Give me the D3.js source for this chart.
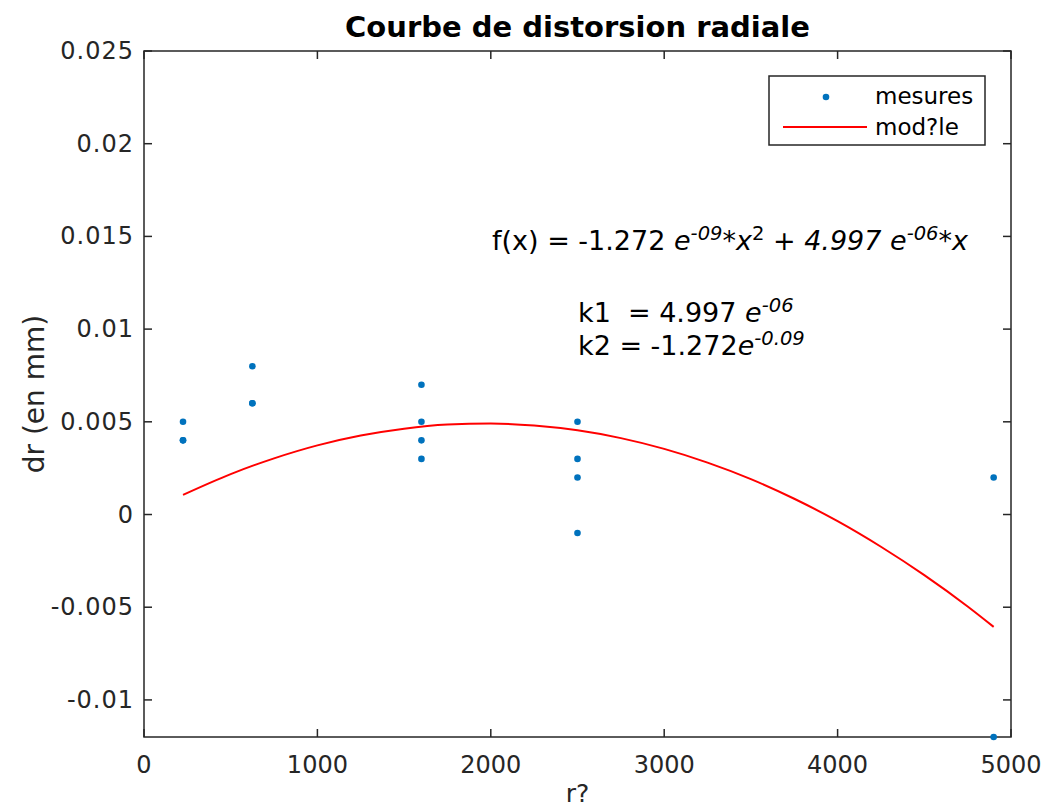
<!DOCTYPE html>
<html><head><meta charset="utf-8">
<script src="https://cdn.jsdelivr.net/npm/d3@7"></script>
<style>body{margin:0;background:#fff}svg{display:block;font-family:"DejaVu Sans",sans-serif}</style>
</head><body><svg id="c" width="1049" height="810"></svg>
<script>
// measured points (r², dr)
const measX = [225,225,225,625,625,625,1600,1600,1600,1600,2500,2500,2500,2500,4900,4900];
const measY = [0.005,0.004,0.004,0.008,0.006,0.006,0.007,0.005,0.004,0.003,0.005,0.003,0.002,-0.001,0.002,-0.012];
// model curve values
const modelX = [225,500,750,1000,1250,1500,1750,2000,2250,2500,2750,3000,3250,3500,3750,4000,4250,4500,4750,4900];
const modelY = [0.00106,0.00218,0.00303,0.00373,0.00426,0.00463,0.00485,0.00491,0.00480,0.00454,0.00412,0.00354,0.00280,0.00191,0.00085,-0.00036,-0.00174,-0.00327,-0.00496,-0.00606];
const xTicks = [0,1000,2000,3000,4000,5000];
const yTicks = [-0.01,-0.005,0,0.005,0.01,0.015,0.02,0.025];
const yTickLabels = ["-0.01","-0.005","0","0.005","0.01","0.015","0.02","0.025"];

const svg = d3.select("#c");
const L=144,R=1011,T=51,B=737;
const x = d3.scaleLinear().domain([0,5000]).range([L,R]);
const y = d3.scaleLinear().domain([-0.012,0.025]).range([B,T]);
const axCol="#262626";

// frame
svg.append("rect").attr("x",L).attr("y",T).attr("width",R-L).attr("height",B-T)
  .attr("fill","none").attr("stroke",axCol).attr("stroke-width",1.5);

const tl=8;
const g=svg.append("g").attr("fill",axCol).attr("stroke",axCol);
xTicks.forEach(v=>{
  g.append("line").attr("x1",x(v)).attr("x2",x(v)).attr("y1",B).attr("y2",B-tl).attr("stroke-width",1.5);
  g.append("line").attr("x1",x(v)).attr("x2",x(v)).attr("y1",T).attr("y2",T+tl).attr("stroke-width",1.5);
  g.append("text").attr("x",x(v)).attr("y",B+36).attr("text-anchor","middle").attr("stroke","none")
   .attr("font-size",24).text(v);
});
yTicks.forEach((v,i)=>{
  g.append("line").attr("x1",L).attr("x2",L+tl).attr("y1",y(v)).attr("y2",y(v)).attr("stroke-width",1.5);
  g.append("line").attr("x1",R).attr("x2",R-tl).attr("y1",y(v)).attr("y2",y(v)).attr("stroke-width",1.5);
  g.append("text").attr("x",L-10).attr("y",y(v)+8).attr("text-anchor","end").attr("stroke","none")
   .attr("font-size",24).attr("letter-spacing",1).text(yTickLabels[i]);
});

// labels
svg.append("text").attr("x",(L+R)/2).attr("y",37).attr("text-anchor","middle")
  .attr("font-weight","bold").attr("font-size",29).attr("fill","#000").text("Courbe de distorsion radiale");
svg.append("text").attr("x",(L+R)/2).attr("y",802).attr("text-anchor","middle")
  .attr("font-size",25).attr("fill",axCol).text("r?");
svg.append("text").attr("transform",`translate(44,${(T+B)/2}) rotate(-90)`).attr("text-anchor","middle")
  .attr("font-size",28).attr("fill",axCol).text("dr (en mm)");

// model line
const line=d3.line().x(d=>x(d[0])).y(d=>y(d[1])).curve(d3.curveMonotoneX);
svg.append("path").datum(modelX.map((v,i)=>[v,modelY[i]])).attr("d",line)
  .attr("fill","none").attr("stroke","#ff0000").attr("stroke-width",2);

// points
svg.append("g").selectAll("circle").data(measX.map((v,i)=>[v,measY[i]])).join("circle")
  .attr("cx",d=>x(d[0])).attr("cy",d=>y(d[1])).attr("r",3.3).attr("fill","#0072bd");

// annotations
const fs=27, ss=19.5, dy=10;
const a1=svg.append("text").attr("x",492).attr("y",250).attr("font-size",fs).attr("fill","#000");
a1.append("tspan").text("f(x) = -1.272 ");
a1.append("tspan").attr("font-style","italic").text("e");
a1.append("tspan").attr("font-style","italic").attr("font-size",ss).attr("dy",-dy).text("-09");
a1.append("tspan").attr("font-style","italic").attr("dy",dy).text("*x");
a1.append("tspan").attr("font-size",ss).attr("dy",-dy).text("2");
a1.append("tspan").attr("font-style","italic").attr("dy",dy).text(" + 4.997 e");
a1.append("tspan").attr("font-style","italic").attr("font-size",ss).attr("dy",-dy).text("-06");
a1.append("tspan").attr("font-style","italic").attr("dy",dy).text("*x");

const a2=svg.append("text").attr("x",578).attr("y",322).attr("font-size",fs).attr("fill","#000");
a2.append("tspan").text("k1\u00a0\u00a0= 4.997 ");
a2.append("tspan").attr("font-style","italic").text("e");
a2.append("tspan").attr("font-style","italic").attr("font-size",ss).attr("dy",-dy).text("-06");
const a3=svg.append("text").attr("x",578).attr("y",355).attr("font-size",fs).attr("fill","#000");
a3.append("tspan").text("k2 = -1.272");
a3.append("tspan").attr("font-style","italic").text("e");
a3.append("tspan").attr("font-style","italic").attr("font-size",ss).attr("dy",-dy).text("-0.09");

// legend
const lg=svg.append("g");
lg.append("rect").attr("x",769).attr("y",76).attr("width",216).attr("height",69)
  .attr("fill","#fff").attr("stroke",axCol).attr("stroke-width",1.5);
lg.append("circle").attr("cx",826).attr("cy",97).attr("r",3.3).attr("fill","#0072bd");
lg.append("line").attr("x1",783).attr("x2",867).attr("y1",127).attr("y2",127).attr("stroke","#ff0000").attr("stroke-width",2);
lg.append("text").attr("x",875).attr("y",104).attr("font-size",23).attr("fill","#000").text("mesures");
lg.append("text").attr("x",875).attr("y",135).attr("font-size",23).attr("fill","#000").text("mod?le");
</script></body></html>
